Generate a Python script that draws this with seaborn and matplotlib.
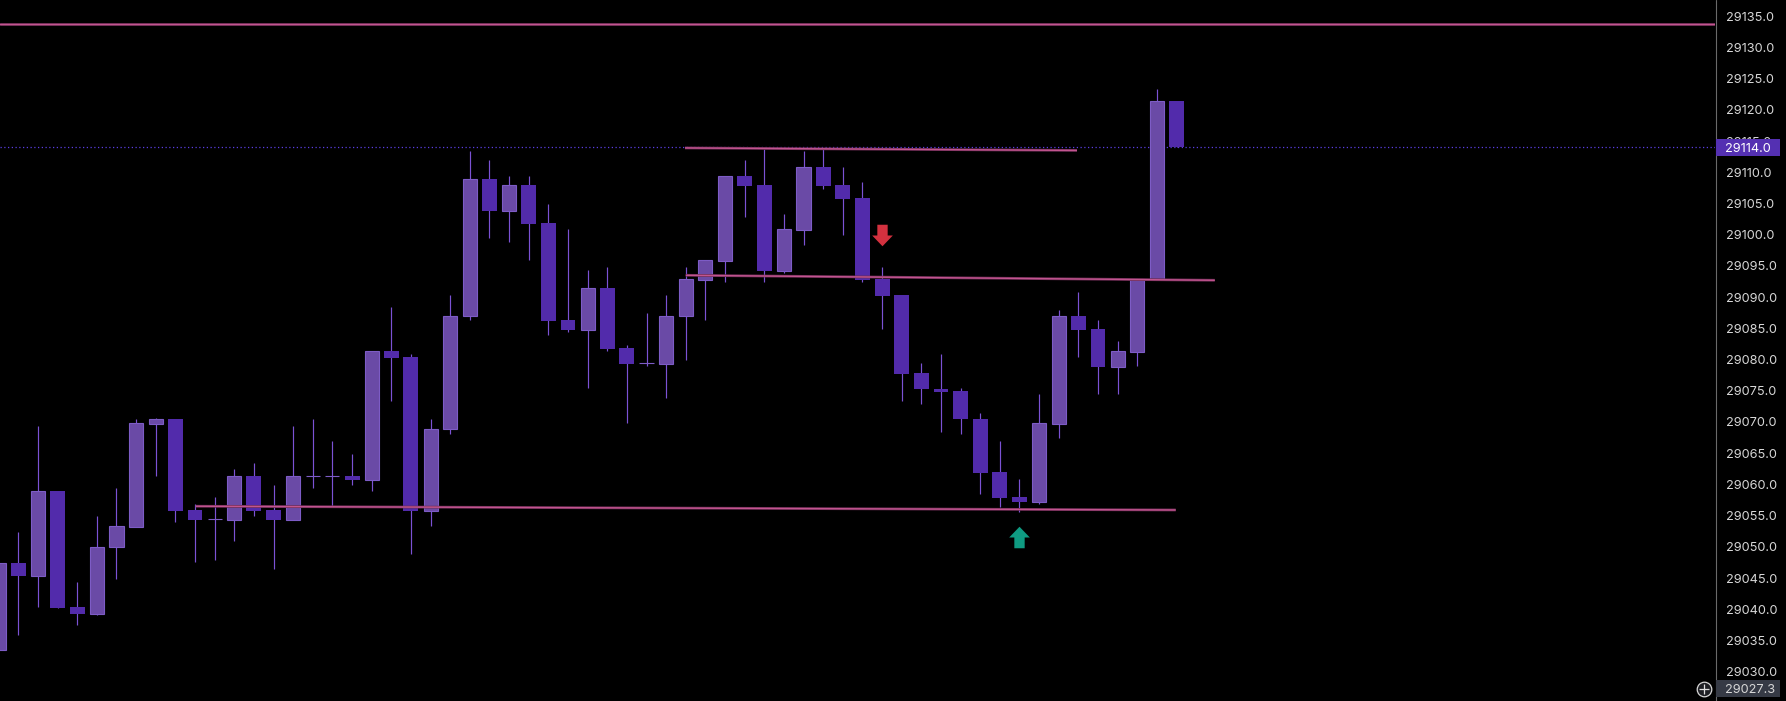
import numpy as np
import pandas as pd
import matplotlib.pyplot as plt
import matplotlib.transforms as mtransforms
from matplotlib.patches import Rectangle
from matplotlib.lines import Line2D
from matplotlib.path import Path
import seaborn as sns

# OHLC per bar
opens = [29033.4, 29047.4, 29045.4, 29058.9, 29040.4, 29039.3, 29049.9, 29053.2, 29069.7, 29070.5,
         29055.9, 29054.4, 29054.3, 29061.3, 29055.9, 29054.3, 29061.3, 29061.3, 29061.3, 29060.7,
         29081.4, 29080.4, 29055.7, 29068.8, 29086.9, 29108.9, 29103.8, 29107.9, 29101.9, 29086.3,
         29084.8, 29091.4, 29081.8, 29079.4, 29079.3, 29086.9, 29092.8, 29095.8, 29109.4, 29107.9,
         29094.2, 29100.8, 29110.8, 29107.9, 29105.9, 29092.9, 29090.3, 29077.8, 29075.3, 29075.0,
         29070.5, 29062.0, 29058.0, 29057.2, 29069.7, 29087.0, 29084.9, 29078.8, 29081.2, 29092.9,
         29121.4]
highs = [29047.4, 29052.4, 29069.3, 29058.9, 29044.4, 29054.9, 29059.4, 29070.5, 29070.6, 29070.5,
         29056.9, 29058.0, 29062.5, 29063.4, 29059.9, 29069.3, 29070.5, 29066.9, 29064.9, 29081.4,
         29088.4, 29080.9, 29070.5, 29090.3, 29113.4, 29111.9, 29109.4, 29109.4, 29104.9, 29100.9,
         29094.3, 29094.8, 29082.3, 29087.4, 29090.3, 29094.8, 29095.9, 29109.4, 29111.9, 29113.7,
         29103.3, 29113.4, 29113.7, 29110.8, 29108.4, 29094.8, 29090.3, 29079.4, 29080.9, 29075.5,
         29071.4, 29066.9, 29060.9, 29074.5, 29087.9, 29090.8, 29086.3, 29083.0, 29092.9, 29123.3,
         29121.4]
lows = [29033.4, 29035.9, 29040.4, 29040.2, 29037.5, 29039.0, 29044.9, 29053.2, 29061.4, 29054.0,
        29047.5, 29047.9, 29050.9, 29054.9, 29046.4, 29054.3, 29059.4, 29056.4, 29059.9, 29059.0,
        29073.4, 29048.9, 29053.4, 29068.0, 29086.3, 29099.5, 29098.9, 29096.0, 29084.0, 29084.4,
        29075.5, 29081.4, 29069.9, 29079.0, 29073.9, 29080.0, 29086.4, 29092.5, 29102.9, 29092.5,
        29093.9, 29098.4, 29107.3, 29100.0, 29092.5, 29084.9, 29073.4, 29072.9, 29068.4, 29068.0,
        29058.5, 29056.4, 29055.5, 29056.9, 29067.5, 29080.4, 29074.5, 29074.5, 29079.0, 29092.9,
        29114.0]
closes = [29047.4, 29045.4, 29058.9, 29040.2, 29039.3, 29050.0, 29053.3, 29069.8, 29070.5, 29055.7,
          29054.3, 29054.4, 29061.3, 29055.7, 29054.3, 29061.3, 29061.3, 29061.3, 29060.7, 29081.4,
          29080.3, 29055.7, 29068.9, 29087.0, 29108.9, 29103.8, 29107.9, 29101.7, 29086.2, 29084.8,
          29091.4, 29081.7, 29079.3, 29079.4, 29087.0, 29092.9, 29095.9, 29109.4, 29107.8, 29094.2,
          29100.9, 29110.8, 29107.8, 29105.7, 29092.8, 29090.2, 29077.7, 29075.3, 29074.8, 29070.4,
          29061.9, 29057.9, 29057.2, 29069.8, 29087.0, 29084.8, 29078.8, 29081.4, 29092.9, 29121.4,
          29114.0]

# trend lines drawn on the chart (bar index / price at each end)
line_x0 = [10.04, 34.96, 35.0]
line_x1 = [59.96, 54.93, 61.95]
line_y0 = [29056.5, 29113.9, 29093.5]
line_y1 = [29055.9, 29113.5, 29092.7]
top_level = 29133.8

last_price = 29114.0
cursor_price = 29027.3

sell_bar = [45]
sell_price = [29099.9]
buy_bar = [52]
buy_price = [29051.6]

ticks = np.arange(29030, 29136, 5)

df = pd.DataFrame({"open": opens, "high": highs, "low": lows, "close": closes})
df["bar"] = np.arange(len(df))
df["up"] = df["close"] >= df["open"]

sns.set_theme(style="dark", rc={"axes.facecolor": "black", "figure.facecolor": "black"})
plt.rcParams["font.family"] = ["Inter", "DejaVu Sans"]

W, H = 1786, 701
fig = plt.figure(figsize=(W / 100, H / 100), dpi=100)
ax = fig.add_axes([0, 0, 1715 / W, 1])
ax.set_facecolor("black")

# wicks
ax.vlines(df["bar"], df["low"], df["high"], color="#7b52d4", lw=0.85, zorder=2)

# bodies
up = df[df["up"]]
dn = df[~df["up"]]
ax.bar(up["bar"], up["close"] - up["open"], bottom=up["open"], width=0.72,
       color="#6a4aa6", edgecolor="#7d5cc6", linewidth=0.8, zorder=3)
ax.bar(dn["bar"], dn["open"] - dn["close"], bottom=dn["close"], width=0.76,
       color="#522bab", linewidth=0, zorder=3)

# drawn lines
ax.axhline(top_level, color="#6e2c55", lw=2.0, zorder=4)
ax.axhline(top_level, color="#c2558f", lw=1.0, zorder=4)
for x0, x1, y0, y1 in zip(line_x0, line_x1, line_y0, line_y1):
    ax.plot([x0, x1], [y0, y1], color="#6e2c55", lw=2.0, zorder=4, solid_capstyle="butt")
    ax.plot([x0, x1], [y0, y1], color="#c2558f", lw=1.0, zorder=4, solid_capstyle="butt")

# last price dotted line
ax.axhline(last_price, color="#5a3ee0", lw=0.9, ls=(0, (1, 2)), zorder=1)

# signal arrows
up_arrow = Path([(-0.25, -0.52), (0.25, -0.52), (0.25, 0.0), (0.5, 0.0), (0.0, 0.52),
                 (-0.5, 0.0), (-0.25, 0.0), (-0.25, -0.52)],
                [Path.MOVETO] + [Path.LINETO] * 6 + [Path.CLOSEPOLY])
down_arrow = Path(up_arrow.vertices * np.array([1, -1]), up_arrow.codes)
sns.scatterplot(x=sell_bar, y=sell_price, marker=down_arrow, s=240, color="#d3313f",
                linewidth=0, ax=ax, zorder=6)
sns.scatterplot(x=buy_bar, y=buy_price, marker=up_arrow, s=240, color="#0f9b82",
                linewidth=0, ax=ax, zorder=6)

ax.set_xlim(0.066, 87.43)
ax.set_ylim(29025.3, 29137.6)
ax.set_xticks([])
ax.yaxis.tick_right()
ax.set_yticks(ticks)
ax.set_yticklabels([f"{t:.1f}" for t in ticks])
ax.tick_params(axis="y", length=0, pad=7.6, labelsize=9.2, labelcolor="#d6d6d6")
ax.grid(False)
for s in ax.spines.values():
    s.set_visible(False)

# price scale separator
fig.add_artist(Line2D([1715.5 / W, 1715.5 / W], [0, 1], transform=fig.transFigure,
                      color="#6a6a6a", lw=0.8))

# price labels on the scale
trans = mtransforms.blended_transform_factory(fig.transFigure, ax.transData)
fig.add_artist(Rectangle((1716 / W, last_price - 1.36), 64 / W, 2.72, transform=trans,
                         facecolor="#5430b2", edgecolor="none", zorder=10))
fig.text(1725.5 / W, last_price, f"{last_price:.1f}", transform=trans, ha="left",
         va="center_baseline", color="white", fontsize=9.2, zorder=11)
fig.add_artist(Rectangle((1716 / W, cursor_price - 1.36), 64 / W, 2.72, transform=trans,
                         facecolor="#363a45", edgecolor="none", zorder=10))
fig.text(1725.5 / W, cursor_price, f"{cursor_price:.1f}", transform=trans, ha="left",
         va="center_baseline", color="#d6d6d6", fontsize=9.2, zorder=11)
fig.add_artist(Line2D([1703.5 / W], [cursor_price], transform=trans, marker="o", ms=10.5,
                      mfc="#1e1f24", mec="#d8d8d8", mew=0.9, zorder=11))
fig.add_artist(Line2D([1703.5 / W], [cursor_price], transform=trans, marker="+", ms=6.5,
                      mec="#e0e0e0", mew=0.9, zorder=12))

fig.savefig("out.png", dpi=100, facecolor="black")
